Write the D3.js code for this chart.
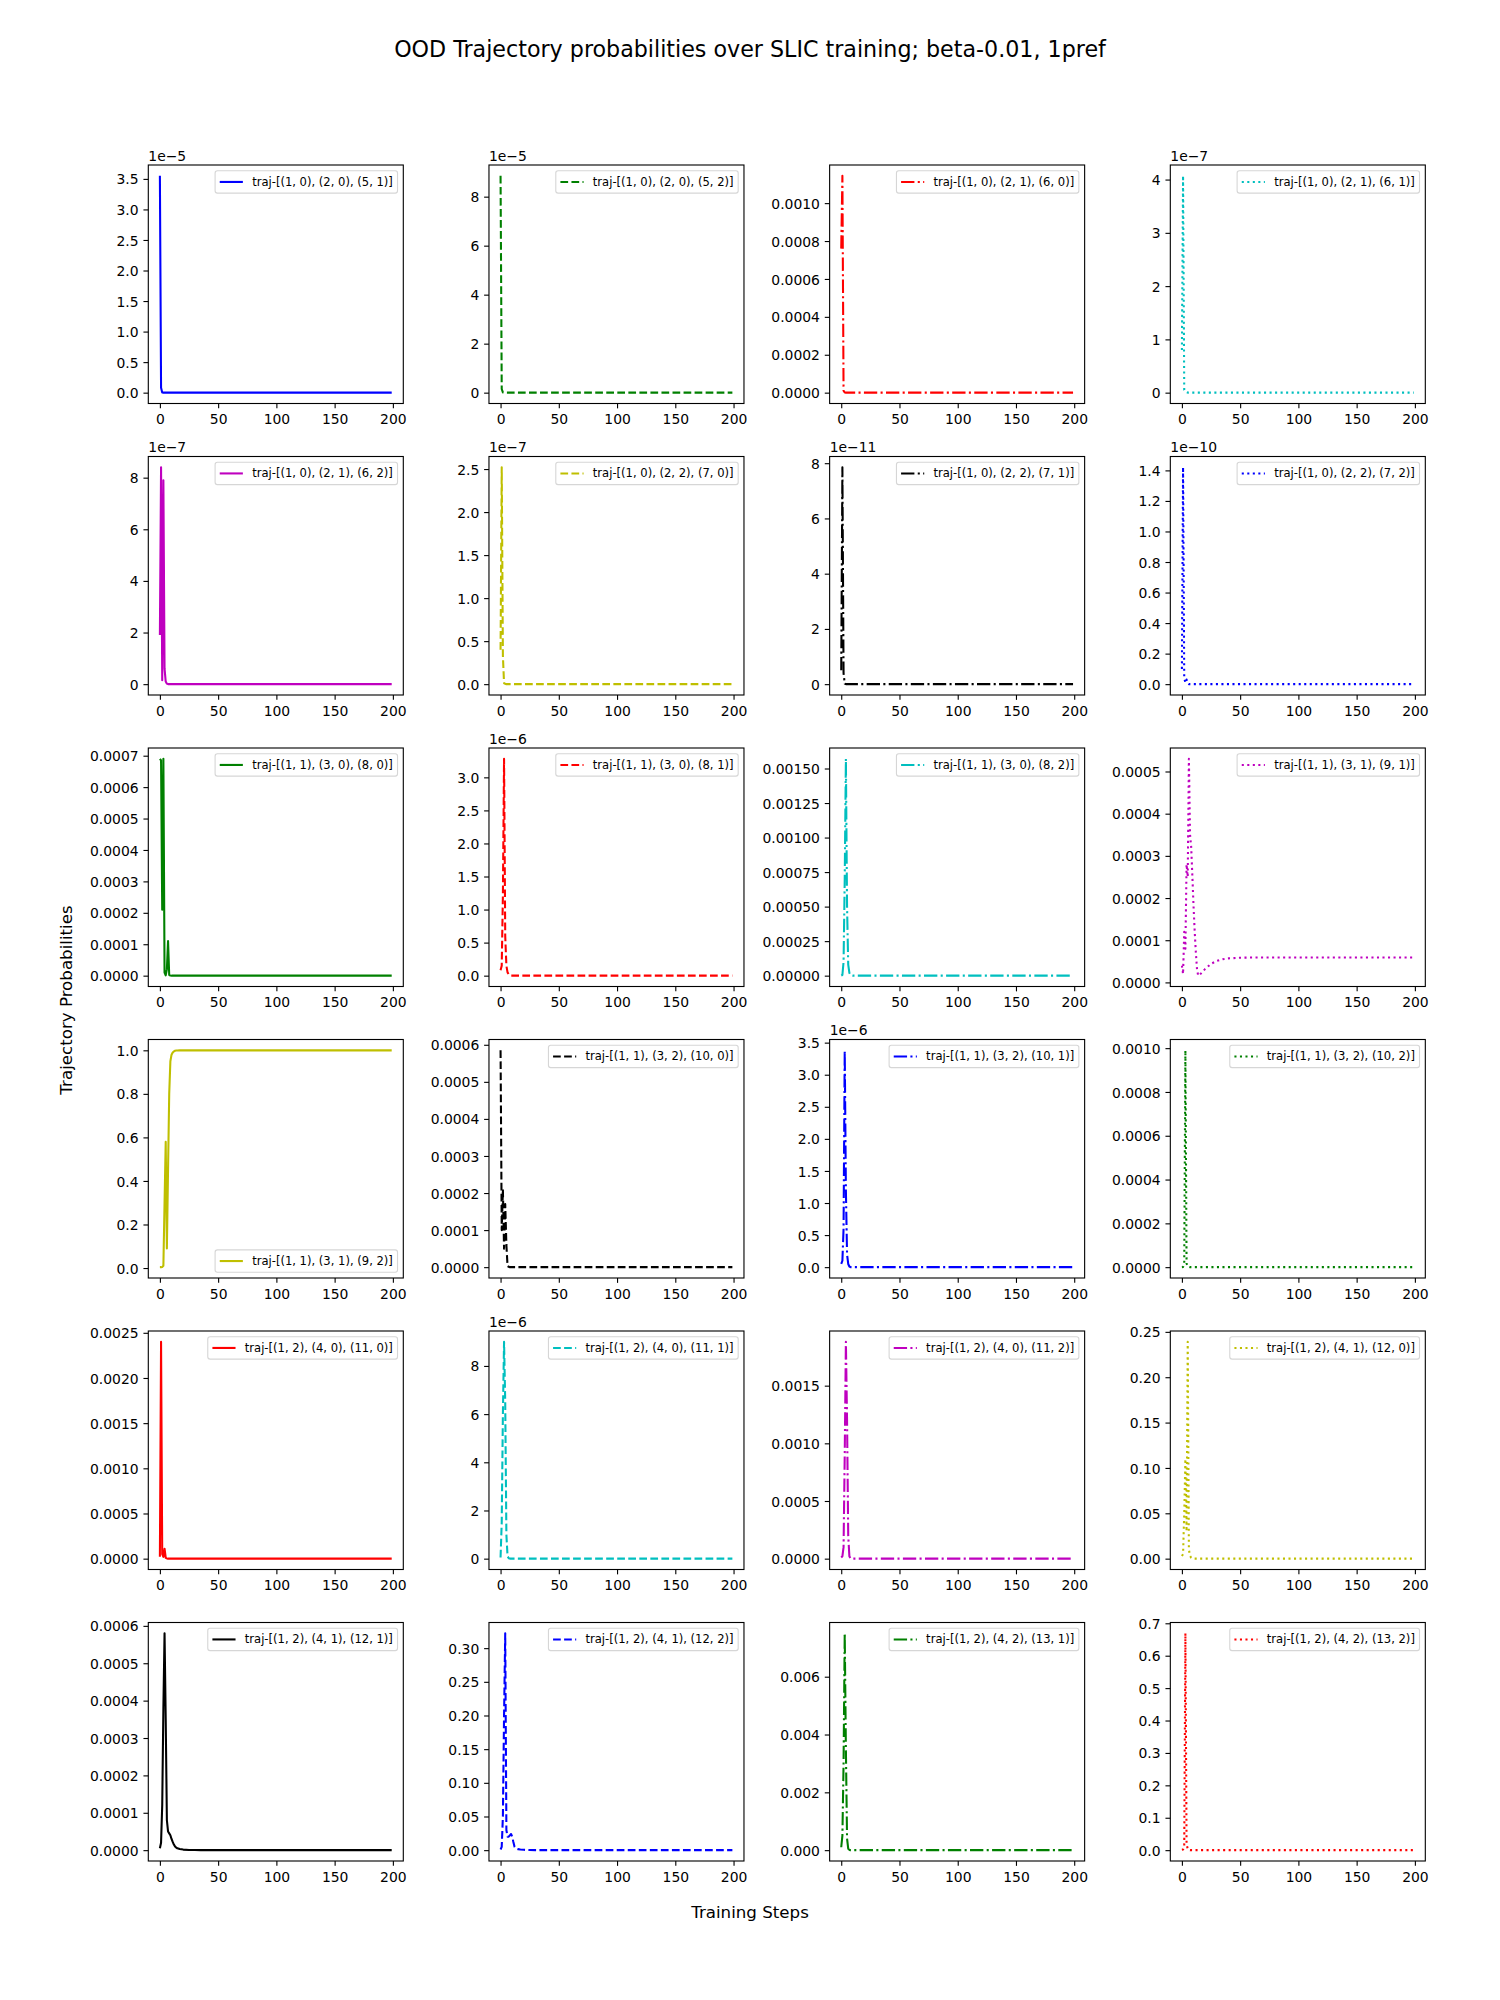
<!DOCTYPE html>
<html><head><meta charset="utf-8">
<script src="https://cdn.jsdelivr.net/npm/d3@7"></script>
<style>body{margin:0;background:#fff;} text{font-family:"DejaVu Sans";}</style>
</head><body><svg id="chart" width="1500" height="2000" xmlns="http://www.w3.org/2000/svg"></svg>
<script>
// ---- DATA ----
const steps = [0,1,2,3,4,5,6,7,8,9,10,11,12,13,14,15,17,20,25,30,35,40,50,60,80,100,150,199];

const trajLabels = [
  "traj-[(1, 0), (2, 0), (5, 1)]", "traj-[(1, 0), (2, 0), (5, 2)]", "traj-[(1, 0), (2, 1), (6, 0)]", "traj-[(1, 0), (2, 1), (6, 1)]",
  "traj-[(1, 0), (2, 1), (6, 2)]", "traj-[(1, 0), (2, 2), (7, 0)]", "traj-[(1, 0), (2, 2), (7, 1)]", "traj-[(1, 0), (2, 2), (7, 2)]",
  "traj-[(1, 1), (3, 0), (8, 0)]", "traj-[(1, 1), (3, 0), (8, 1)]", "traj-[(1, 1), (3, 0), (8, 2)]", "traj-[(1, 1), (3, 1), (9, 1)]",
  "traj-[(1, 1), (3, 1), (9, 2)]", "traj-[(1, 1), (3, 2), (10, 0)]", "traj-[(1, 1), (3, 2), (10, 1)]", "traj-[(1, 1), (3, 2), (10, 2)]",
  "traj-[(1, 2), (4, 0), (11, 0)]", "traj-[(1, 2), (4, 0), (11, 1)]", "traj-[(1, 2), (4, 0), (11, 2)]", "traj-[(1, 2), (4, 1), (12, 0)]",
  "traj-[(1, 2), (4, 1), (12, 1)]", "traj-[(1, 2), (4, 1), (12, 2)]", "traj-[(1, 2), (4, 2), (13, 1)]", "traj-[(1, 2), (4, 2), (13, 2)]"
];

const s01 = [3.55e-5,8e-7,4e-8,1e-8,3e-9,1e-9,0,0,0,0,0,0,0,0,0,0, 0,0,0,0,0,0,0,0,0,0,0,0];
const s02 = [8.85e-5,1.5e-6,1e-7,2e-8,5e-9,1e-9,0,0,0,0,0,0,0,0,0,0, 0,0,0,0,0,0,0,0,0,0,0,0];
const s03 = [7.6e-4,1.144e-3,1e-5,1e-6,1e-7,0,0,0,0,0,0,0,0,0,0,0, 0,0,0,0,0,0,0,0,0,0,0,0];
const s04 = [8e-8,4.07e-7,5e-9,2e-9,1e-9,0,0,0,0,0,0,0,0,0,0,0, 0,0,0,0,0,0,0,0,0,0,0,0];
const s05 = [1.9e-7,8.4e-7,1.5e-8,7.9e-7,6e-8,1e-8,2e-9,0,0,0,0,0,0,0,0,0, 0,0,0,0,0,0,0,0,0,0,0,0];
const s06 = [4e-8,2.52e-7,3.3e-8,1e-9,5e-10,0,0,0,0,0,0,0,0,0,0,0, 0,0,0,0,0,0,0,0,0,0,0,0];
const s07 = [5e-12,7.85e-11,4e-12,2e-13,0,0,0,0,0,0,0,0,0,0,0,0, 0,0,0,0,0,0,0,0,0,0,0,0];
const s08 = [1e-11,1.42e-10,4e-12,1e-12,3e-12,5e-13,0,0,0,0,0,0,0,0,0,0, 0,0,0,0,0,0,0,0,0,0,0,0];
const s09 = [6.9e-4,6.85e-4,2.1e-4,6.9e-4,1e-5,1e-6,2e-5,1.1e-4,2e-6,5e-7,0,0,0,0,0,0, 0,0,0,0,0,0,0,0,0,0,0,0];
const s10 = [8e-8,1.5e-7,1.2e-6,3.28e-6,6e-7,1.5e-7,5e-8,2e-8,1e-8,0,0,0,0,0,0,0, 0,0,0,0,0,0,0,0,0,0,0,0];
const s11 = [1e-6,5e-6,1e-4,7e-4,1.57e-3,5e-4,8e-5,2e-5,5e-6,1e-6,0,0,0,0,0,0, 0,0,0,0,0,0,0,0,0,0,0,0];
const s12 = [4e-5,2e-5,1.2e-4,8e-5,2.8e-4,2.5e-4,5.3e-4,3.5e-4,3.2e-4,2.5e-4,1.8e-4,1.2e-4,7e-5,3e-5,1.6e-5,1.7e-5, 2.3e-5,3.2e-5,4.4e-5,5.1e-5,5.5e-5,5.7e-5,5.85e-5,5.9e-5,5.9e-5,5.9e-5,5.9e-5,5.9e-5];
const s13 = [0.004,0.004,0.005,0.01,0.3,0.58,0.09,0.45,0.8,0.95,0.98,0.99,0.995,0.998,0.999,0.9994, 0.9997,0.9999,0.9999,0.9999,0.9999,0.9999,0.9999,0.9999,0.9999,0.9999,0.9999,0.9999];
const s14 = [5.85e-4,1e-4,2.1e-4,5e-5,1.7e-4,6e-5,3e-6,1e-6,0,0,0,0,0,0,0,0, 0,0,0,0,0,0,0,0,0,0,0,0];
const s15 = [5e-8,1e-7,6e-7,3.38e-6,1.2e-6,2e-7,5e-8,1e-8,0,0,0,0,0,0,0,0, 0,0,0,0,0,0,0,0,0,0,0,0];
const s16 = [0,1e-6,1.5e-5,9.9e-4,1.7e-5,3e-6,1e-6,0,0,0,0,0,0,0,0,0, 0,0,0,0,0,0,0,0,0,0,0,0];
const s17 = [2e-5,2.4e-3,5e-5,2e-5,1.1e-4,1e-5,2e-6,0,0,0,0,0,0,0,0,0, 0,0,0,0,0,0,0,0,0,0,0,0];
const s18 = [5e-8,1.5e-6,6e-6,9e-6,6.5e-6,1e-6,1e-7,2e-8,0,0,0,0,0,0,0,0, 0,0,0,0,0,0,0,0,0,0,0,0];
const s19 = [1e-5,2e-5,1e-4,9e-4,1.88e-3,1.2e-3,2e-4,2e-5,2e-6,0,0,0,0,0,0,0, 0,0,0,0,0,0,0,0,0,0,0,0];
const s20 = [3e-3,5e-3,5e-2,1.1e-1,3e-2,2.39e-1,1e-2,3e-3,1e-3,3e-4,0,0,0,0,0,0, 0,0,0,0,0,0,0,0,0,0,0,0];
const s21 = [5e-6,2e-5,1.2e-4,3.8e-4,5.8e-4,3.5e-4,8e-5,5e-5,4.5e-5,4e-5,3e-5,2.2e-5,1.5e-5,1e-5,7e-6,5e-6, 3e-6,1.5e-6,5e-7,2e-7,1e-7,5e-8,0,0,0,0,0,0];
const s22 = [1e-3,5e-3,5e-2,2e-1,3.22e-1,3e-2,2e-2,2e-2,2.2e-2,2.4e-2,2e-2,1.2e-2,5e-3,3e-3,2e-3,1.5e-3, 1e-3,5e-4,2e-4,1e-4,0,0,0,0,0,0,0,0];
const s23 = [1e-4,5e-4,3e-3,7.5e-3,3.5e-3,4e-4,5e-5,1e-5,0,0,0,0,0,0,0,0, 0,0,0,0,0,0,0,0,0,0,0,0];
const s24 = [1e-3,2e-3,1e-2,6.69e-1,2e-2,3e-3,1e-3,0,0,0,0,0,0,0,0,0, 0,0,0,0,0,0,0,0,0,0,0,0];

const yTickLabels = [
  ["0.0","0.5","1.0","1.5","2.0","2.5","3.0","3.5"],
  ["0","2","4","6","8"],
  ["0.0000","0.0002","0.0004","0.0006","0.0008","0.0010"],
  ["0","1","2","3","4"],
  ["0","2","4","6","8"],
  ["0.0","0.5","1.0","1.5","2.0","2.5"],
  ["0","2","4","6","8"],
  ["0.0","0.2","0.4","0.6","0.8","1.0","1.2","1.4"],
  ["0.0000","0.0001","0.0002","0.0003","0.0004","0.0005","0.0006","0.0007"],
  ["0.0","0.5","1.0","1.5","2.0","2.5","3.0"],
  ["0.00000","0.00025","0.00050","0.00075","0.00100","0.00125","0.00150"],
  ["0.0000","0.0001","0.0002","0.0003","0.0004","0.0005"],
  ["0.0","0.2","0.4","0.6","0.8","1.0"],
  ["0.0000","0.0001","0.0002","0.0003","0.0004","0.0005","0.0006"],
  ["0.0","0.5","1.0","1.5","2.0","2.5","3.0","3.5"],
  ["0.0000","0.0002","0.0004","0.0006","0.0008","0.0010"],
  ["0.0000","0.0005","0.0010","0.0015","0.0020","0.0025"],
  ["0","2","4","6","8"],
  ["0.0000","0.0005","0.0010","0.0015"],
  ["0.00","0.05","0.10","0.15","0.20","0.25"],
  ["0.0000","0.0001","0.0002","0.0003","0.0004","0.0005","0.0006"],
  ["0.00","0.05","0.10","0.15","0.20","0.25","0.30"],
  ["0.000","0.002","0.004","0.006"],
  ["0.0","0.1","0.2","0.3","0.4","0.5","0.6","0.7"]
];
const yExponents = [-5,-5,0,-7, -7,-7,-11,-10, 0,-6,0,0, 0,0,-6,0, 0,-6,0,0, 0,0,0,0];
const xTickLabels = ["0","50","100","150","200"];
const legendLocs = ["upper right","upper right","upper right","upper right",
  "upper right","upper right","upper right","upper right",
  "upper right","upper right","upper right","upper right",
  "lower right","upper right","upper right","upper right",
  "upper right","upper right","upper right","upper right",
  "upper right","upper right","upper right","upper right"];

const titleText = "OOD Trajectory probabilities over SLIC training; beta-0.01, 1pref";
const xLabelText = "Training Steps";
const yLabelText = "Trajectory Probabilities";

const lineColors = ["#0000ff","#008000","#ff0000","#00bfbf","#bf00bf","#bfbf00","#000000"];
const lineStyles = ["solid","dashed","dashdot","dotted"];

// ---- TABLE BUILT FROM DATA ----
const seriesValues = [s01,s02,s03,s04,s05,s06,s07,s08,s09,s10,s11,s12,s13,s14,s15,s16,s17,s18,s19,s20,s21,s22,s23,s24];

// ---- LAYOUT / STYLE ----
const AX_W = 255, AX_H = 238.5, AX_X0 = 148.3, AX_DX = 340.67, AX_Y0 = 165, AX_DY = 291.5;
const LW = 2.08, TICK = 4.86, TPAD = 4.86, FS = 13.9, LFS = 11.57;
const dashMap = {solid: null, dashed: "7.71,3.33", dashdot: "13.33,3.33,2.08,3.33", dotted: "2.08,3.44"};

const svg = d3.select("#chart");
svg.append("rect").attr("width",1500).attr("height",2000).attr("fill","#fff");
const defs = svg.append("defs");

seriesValues.forEach((vals, i) => {
  const col = i % 4, row = Math.floor(i / 4);
  const gx = AX_X0 + col * AX_DX, gy = AX_Y0 + row * AX_DY;
  const g = svg.append("g").attr("transform", `translate(${gx},${gy})`);
  const color = lineColors[i % lineColors.length];
  const style = lineStyles[i % lineStyles.length];

  const [xmn, xmx] = d3.extent(steps);
  const xpad = 0.05 * (xmx - xmn);
  const x = d3.scaleLinear().domain([xmn - xpad, xmx + xpad]).range([0, AX_W]);
  const [mn, mx] = d3.extent(vals);
  const pad = 0.05 * (mx - mn);
  const y = d3.scaleLinear().domain([mn - pad, mx + pad]).range([AX_H, 0]);

  defs.append("clipPath").attr("id", "clip" + i)
    .append("rect").attr("width", AX_W).attr("height", AX_H);

  const line = d3.line().x((d, j) => x(steps[j])).y(d => y(d));
  g.append("path").datum(vals)
    .attr("clip-path", `url(#clip${i})`)
    .attr("d", line)
    .attr("fill", "none").attr("stroke", color).attr("stroke-width", LW)
    .attr("stroke-linejoin", "round").attr("stroke-linecap", "butt")
    .attr("stroke-dasharray", dashMap[style]);

  // y axis
  const exp = yExponents[i];
  const labs = yTickLabels[i];
  const labelMap = new Map();
  const tv = [];
  labs.forEach(l => {
    const v = Number(l + "e" + exp);
    const [d0, d1] = y.domain();
    if (v >= d0 - 1e-15 && v <= d1 + 1e-15) { tv.push(v); labelMap.set(v, l); }
  });
  const yAxis = g.append("g").call(
    d3.axisLeft(y).tickValues(tv).tickFormat(d => labelMap.get(d))
      .tickSize(TICK).tickPadding(TPAD).tickSizeOuter(0));
  yAxis.select(".domain").remove();
  yAxis.attr("font-size", FS).attr("font-family", "DejaVu Sans").attr("color", "#000");
  yAxis.selectAll("line").attr("stroke-width", 1.11);
  yAxis.selectAll("text").attr("dy", "0.364em");

  // x axis
  const xtv = xTickLabels.map(Number);
  const xAxis = g.append("g").attr("transform", `translate(0,${AX_H})`).call(
    d3.axisBottom(x).tickValues(xtv).tickFormat((d, k) => xTickLabels[k])
      .tickSize(TICK).tickPadding(TPAD).tickSizeOuter(0));
  xAxis.select(".domain").remove();
  xAxis.attr("font-size", FS).attr("font-family", "DejaVu Sans").attr("color", "#000");
  xAxis.selectAll("line").attr("stroke-width", 1.11);
  xAxis.selectAll("text").attr("dy", "0.78em");

  // frame
  g.append("rect").attr("width", AX_W).attr("height", AX_H)
    .attr("fill", "none").attr("stroke", "#000").attr("stroke-width", 1.11);

  // offset text
  if (exp !== 0) {
    g.append("text").attr("x", 0).attr("y", -4.3).attr("font-size", FS)
      .attr("text-anchor", "start").text("1e\u2212" + Math.abs(exp));
  }

  // legend
  const lg = g.append("g");
  const rectSel = lg.append("rect");
  const lineSel = lg.append("line");
  const txt = lg.append("text").attr("font-size", LFS).text(trajLabels[i]);
  const tw = txt.node().getComputedTextLength();
  const bp = 0.4 * LFS, hl = 2.0 * LFS, htp = 0.8 * LFS, bap = 0.5 * LFS;
  const bw = bp + hl + htp + tw + bp;
  const bh = 22.3;
  const bx = AX_W - bap - bw;
  const by = legendLocs[i] === "lower right" ? AX_H - bap - bh : bap;
  rectSel.attr("x", bx).attr("y", by).attr("width", bw).attr("height", bh)
    .attr("rx", 2.3).attr("ry", 2.3)
    .attr("fill", "#fff").attr("fill-opacity", 0.8)
    .attr("stroke", "#cccccc").attr("stroke-opacity", 0.8).attr("stroke-width", 1.1);
  lineSel.attr("x1", bx + bp).attr("x2", bx + bp + hl)
    .attr("y1", by + bh / 2).attr("y2", by + bh / 2)
    .attr("stroke", color).attr("stroke-width", LW)
    .attr("stroke-dasharray", dashMap[style]);
  txt.attr("x", bx + bp + hl + htp).attr("y", by + bh / 2 + 3.6);
});

// titles
svg.append("text").attr("x", 750).attr("y", 56.5).attr("text-anchor", "middle")
  .attr("font-size", 22.2).text(titleText);
svg.append("text").attr("x", 750).attr("y", 1917.5).attr("text-anchor", "middle")
  .attr("font-size", 16.67).text(xLabelText);
svg.append("text").attr("transform", "translate(71.5,1000) rotate(-90)")
  .attr("text-anchor", "middle").attr("font-size", 16.67).text(yLabelText);
</script>
</body></html>
